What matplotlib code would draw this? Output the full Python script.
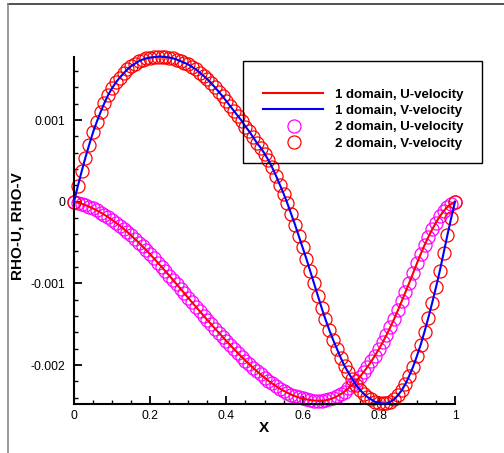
import numpy as np
import matplotlib
matplotlib.use("Agg")
import matplotlib.pyplot as plt
from matplotlib.lines import Line2D
from matplotlib.patches import Rectangle

plt.rcParams['font.family'] = ['Liberation Sans', 'DejaVu Sans']

# ---------------- data ----------------
x_pos = np.round(np.arange(0, 101) * 0.01, 2)

# RHO-U (x 1e-3)
rho_u_e3 = [0.000, -0.011, -0.025, -0.042, -0.061, -0.083, -0.107, -0.133, -0.161, -0.191,
            -0.223, -0.257, -0.293, -0.331, -0.371, -0.413, -0.457, -0.502, -0.548, -0.596,
            -0.645, -0.695, -0.747, -0.799, -0.851, -0.905, -0.959, -1.013, -1.068, -1.123,
            -1.178, -1.233, -1.287, -1.341, -1.395, -1.448, -1.501, -1.553, -1.604, -1.655,
            -1.706, -1.755, -1.804, -1.852, -1.899, -1.946, -1.990, -2.033, -2.075, -2.115,
            -2.154, -2.191, -2.225, -2.257, -2.287, -2.314, -2.339, -2.361, -2.380, -2.396,
            -2.409, -2.420, -2.428, -2.434, -2.437, -2.437, -2.432, -2.421, -2.405, -2.383,
            -2.356, -2.324, -2.286, -2.244, -2.196, -2.144, -2.086, -2.024, -1.956, -1.884,
            -1.806, -1.723, -1.634, -1.539, -1.438, -1.331, -1.220, -1.107, -0.992, -0.875,
            -0.756, -0.640, -0.532, -0.432, -0.340, -0.256, -0.180, -0.115, -0.065, -0.028,
            0.000]

# RHO-V (x 1e-3)
rho_v_e3 = [0.00, 0.19, 0.37, 0.54, 0.70, 0.85, 0.98, 1.10, 1.21, 1.31,
            1.39, 1.46, 1.52, 1.57, 1.62, 1.66, 1.69, 1.72, 1.74, 1.755,
            1.765, 1.77, 1.775, 1.775, 1.77, 1.765, 1.755, 1.74, 1.72, 1.70,
            1.68, 1.65, 1.62, 1.58, 1.54, 1.50, 1.45, 1.40, 1.345, 1.29,
            1.23, 1.17, 1.11, 1.05, 0.99, 0.92, 0.86, 0.79, 0.72, 0.66,
            0.59, 0.51, 0.42, 0.32, 0.21, 0.10, -0.02, -0.15, -0.28, -0.42,
            -0.56, -0.70, -0.85, -1.00, -1.15, -1.30, -1.44, -1.57, -1.69, -1.80,
            -1.91, -2.01, -2.09, -2.17, -2.24, -2.30, -2.35, -2.39, -2.42, -2.45,
            -2.46, -2.47, -2.47, -2.45, -2.42, -2.37, -2.31, -2.23, -2.13, -2.02,
            -1.89, -1.75, -1.59, -1.42, -1.24, -1.05, -0.85, -0.63, -0.41, -0.20,
            0.00]

x_ticks = [0, 0.2, 0.4, 0.6, 0.8, 1.0]
x_tick_labels = ["0", "0.2", "0.4", "0.6", "0.8", "1"]
y_ticks = [-0.002, -0.001, 0.0, 0.001]
y_tick_labels = ["-0.002", "-0.001", "0", "0.001"]

legend_labels = ["1 domain, U-velocity", "1 domain, V-velocity",
                 "2 domain, U-velocity", "2 domain, V-velocity"]

rho_u = np.array(rho_u_e3) * 1e-3
rho_v = np.array(rho_v_e3) * 1e-3

# ---------------- figure ----------------
W, H = 504, 453
fig = plt.figure(figsize=(W / 100, H / 100), dpi=100)

def fx(px):
    return px / W

def fy(py):
    return 1 - py / H

ax_l, ax_r, ax_t, ax_b = 74, 455, 56.7, 404.3
ax = fig.add_axes([fx(ax_l), fy(ax_b), fx(ax_r) - fx(ax_l), fy(ax_t) - fy(ax_b)])

ms = 9.4
mew = 0.9
ax.plot(x_pos, rho_u, linestyle='none', marker='o', markersize=ms, markerfacecolor='none',
        markeredgecolor='#ff00ff', markeredgewidth=mew, clip_on=False, zorder=2)
ax.plot(x_pos, rho_v, linestyle='none', marker='o', markersize=ms, markerfacecolor='none',
        markeredgecolor='#ff0000', markeredgewidth=mew, clip_on=False, zorder=2)
ax.plot(x_pos, rho_u, color='#ff0000', linewidth=1.5, clip_on=False, zorder=3)
ax.plot(x_pos, rho_v, color='#0000ff', linewidth=1.5, clip_on=False, zorder=3)

ax.set_xlim(0, 1)
ax.set_ylim(-0.00248, 0.001775)

ax.spines['top'].set_visible(False)
ax.spines['right'].set_visible(False)
for s in ('left', 'bottom'):
    ax.spines[s].set_linewidth(1.5)

ax.set_xticks(x_ticks)
ax.set_xticklabels(x_tick_labels)
ax.set_yticks(y_ticks)
ax.set_yticklabels(y_tick_labels)
ax.set_xticks(np.arange(0, 1.0001, 0.05), minor=True)
ax.set_yticks(np.arange(-0.0024, 0.00171, 0.0002), minor=True)

ax.tick_params(which='major', direction='in', length=6, width=1.3, labelsize=8.7, pad=4,
               top=False, right=False)
ax.tick_params(axis='y', which='major', pad=6)
ax.tick_params(which='minor', direction='in', length=3, width=1.0, top=False, right=False)

fig.text(fx(264), fy(428), "X", fontsize=11, fontweight='bold', ha='center', va='center')
fig.text(fx(17.5), fy(226.5), "RHO-U, RHO-V", fontsize=11, fontweight='bold',
         rotation=90, ha='center', va='center')

# legend (Tecplot style box, transparent: curves show through)
lg_l, lg_t, lg_r, lg_b = 243, 61, 482, 163
fig.patches.append(Rectangle((fx(lg_l), fy(lg_b)), fx(lg_r) - fx(lg_l), fy(lg_t) - fy(lg_b),
                             transform=fig.transFigure, facecolor='none',
                             edgecolor='black', linewidth=1.0, zorder=5))
rows = [93.3, 109.3, 125.7, 142]
styles = [dict(color='#ff0000', linewidth=1.5),
          dict(color='#0000ff', linewidth=1.5),
          dict(linestyle='none', marker='o', markersize=ms, markerfacecolor='none',
               markeredgecolor='#ff00ff', markeredgewidth=mew),
          dict(linestyle='none', marker='o', markersize=ms, markerfacecolor='none',
               markeredgecolor='#ff0000', markeredgewidth=mew)]
for i, (lab, st) in enumerate(zip(legend_labels, styles)):
    if i < 2:
        fig.lines.append(Line2D([fx(263), fx(323)], [fy(rows[i])] * 2,
                                transform=fig.transFigure, zorder=6, **st))
    else:
        fig.lines.append(Line2D([fx(294)], [fy(rows[i])],
                                transform=fig.transFigure, zorder=6, **st))
    fig.text(fx(335), fy(rows[i]), lab, fontsize=9.5, fontweight='bold',
             ha='left', va='center_baseline', zorder=7)

# outer frame lines
fig.lines.append(Line2D([fx(7.5), 1], [fy(3.5), fy(3.5)], transform=fig.transFigure,
                        color='#333333', linewidth=1.2))
fig.lines.append(Line2D([fx(7.5), fx(7.5)], [fy(3.5), 0], transform=fig.transFigure,
                        color='#888888', linewidth=1.2))

fig.savefig("out.png", dpi=100)
